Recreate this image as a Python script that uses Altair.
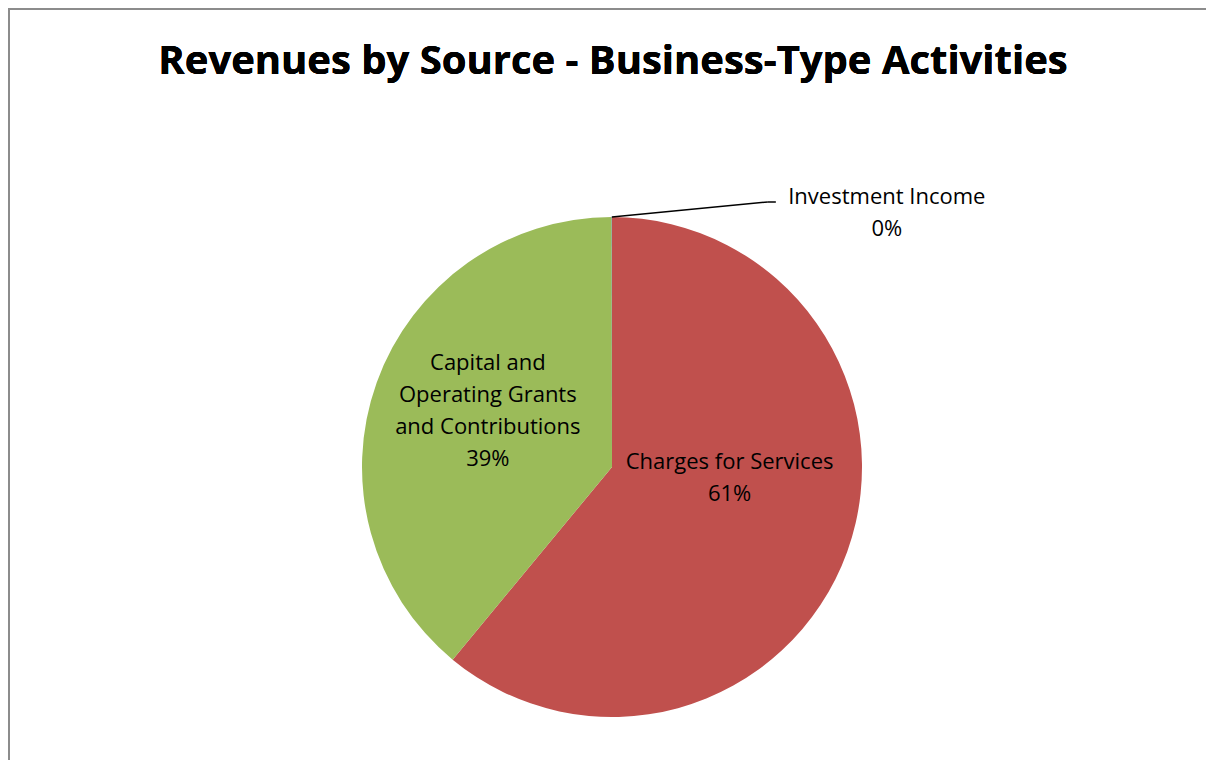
import altair as alt
import pandas as pd

categories = ["Charges for Services", "Capital and Operating Grants and Contributions", "Investment Income"]
label_text = ["Charges for Services\n61%", "Capital and\nOperating Grants\nand Contributions\n39%", "Investment Income\n0%"]
values = [61.0, 38.98, 0.02]
order = [1, 2, 3]
colors = ["#C0504D", "#9BBB59", "#4F81BD"]

df = pd.DataFrame({"category": categories, "label": label_text, "value": values, "order": order})

CX, CY, R = 604, 459, 250
FONT = "Open Sans"

base = alt.Chart(df).transform_window(
    cum="sum(value)", sort=[alt.SortField("order")], frame=[None, 0]
).transform_calculate(mid="datum.cum - datum.value / 2")

theta_scale = alt.Scale(domain=[0, 100])

pie = alt.Chart(df).mark_arc(radius=R, stroke=None).encode(
    theta=alt.Theta("value:Q", stack=True, scale=theta_scale),
    color=alt.Color("category:N", scale=alt.Scale(domain=categories, range=colors), legend=None),
    order=alt.Order("order:Q"),
    x=alt.value(CX),
    y=alt.value(CY),
)

def label_layer(cat, radius, dx, dy):
    return base.transform_filter(alt.datum.category == cat).mark_text(
        radius=radius, dx=dx, dy=dy, lineBreak="\n", lineHeight=32,
        font=FONT, fontSize=22, color="#000000", align="center", baseline="middle",
    ).encode(
        theta=alt.Theta("mid:Q", stack=False, scale=theta_scale),
        text="label:N",
        x=alt.value(CX),
        y=alt.value(CY),
    )

lab1 = label_layer(categories[0], 125, 0, -47)
lab2 = label_layer(categories[1], 133, 1, -59)
lab3 = label_layer(categories[2], 255, 275, -15)

leader_base = base.transform_filter(alt.datum.category == categories[2]).transform_calculate(
    sx=f"{CX} + {R} * sin(2 * PI * datum.mid / 100)",
    sy=f"{CY} - {R} * cos(2 * PI * datum.mid / 100)",
).transform_calculate(
    ex="datum.sx + 156", ey="datum.sy - 15", fx="datum.sx + 164"
)
leader1 = leader_base.mark_rule(color="#000000", strokeWidth=1.5).encode(
    x=alt.X("sx:Q", scale=None), y=alt.Y("sy:Q", scale=None),
    x2="ex:Q", y2="ey:Q",
)
leader2 = leader_base.mark_rule(color="#000000", strokeWidth=1.5).encode(
    x=alt.X("ex:Q", scale=None), y=alt.Y("ey:Q", scale=None),
    x2="fx:Q", y2="ey:Q",
)

frame_top = alt.Chart(df).mark_rule(color="#8c8c8c", strokeWidth=2).encode(
    x=alt.value(0), x2=alt.value(1198), y=alt.value(1)
)
frame_left = alt.Chart(df).mark_rule(color="#8c8c8c", strokeWidth=2).encode(
    x=alt.value(1), y=alt.value(0), y2=alt.value(752)
)
cover_right = alt.Chart(df).mark_rule(color="#ffffff", strokeWidth=4).encode(
    x=alt.value(1197), y=alt.value(2), y2=alt.value(752)
)

title = alt.Chart(df).mark_text(
    text="Revenues by Source - Business-Type Activities",
    font=FONT, fontSize=40, fontWeight="bold", color="#000000",
    align="center", baseline="alphabetic",
).encode(x=alt.value(605), y=alt.value(66))

chart = alt.layer(frame_top, frame_left, cover_right, pie, leader1, leader2, lab1, lab2, lab3, title).properties(
    width=1198, height=752, padding=0, background="#ffffff",
    autosize=alt.AutoSizeParams(type="none"),
    view=alt.ViewBackground(stroke="transparent", strokeWidth=0),
).configure_view(stroke="transparent", strokeWidth=0)

chart.save("out.html", embed_options={"renderer": "svg", "actions": False})
